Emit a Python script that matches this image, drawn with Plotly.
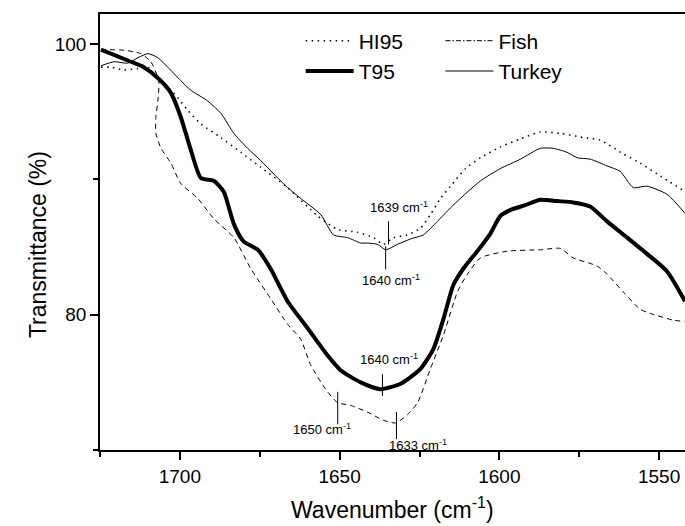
import plotly.graph_objects as go

# ---------------- data ----------------
t95_wn = [1724.7, 1715.3, 1711.3, 1706.9, 1702.8, 1699.7, 1696.6, 1693.4, 1689.4, 1686.3,
          1683.1, 1680.0, 1675.6, 1671.6, 1666.3, 1660.0, 1653.8, 1649.7, 1643.4,
          1637.2, 1630.9, 1624.7, 1620.6, 1617.5, 1614.4, 1611.3, 1606.9, 1602.8, 1599.7,
          1595.9, 1591.9, 1587.2, 1581.9, 1576.9, 1571.6, 1566.3, 1560.0, 1553.8, 1547.5, 1541.9]
t95_tr = [99.6, 98.7, 98.3, 97.5, 96.4, 94.6, 92.2, 90.1, 89.9, 89.1,
          86.7, 85.4, 84.8, 83.4, 81.0, 79.0, 77.0, 75.9, 75.0,
          74.5, 74.9, 76.0, 77.5, 79.7, 82.2, 83.4, 84.7, 86.0, 87.3,
          87.8, 88.1, 88.5, 88.4, 88.3, 88.0, 86.9, 85.7, 84.5, 83.2, 81.0]

fish_wn = [1724.7, 1717.5, 1712.2, 1709.1, 1706.6, 1706.9, 1707.5, 1707.5, 1705.9, 1702.8,
           1699.7, 1694.4, 1689.4, 1683.1, 1677.8, 1671.6, 1666.3, 1662.2, 1659.1, 1653.8,
           1650.6, 1646.6, 1641.3, 1636.3, 1632.5, 1628.8, 1625.6, 1621.6, 1617.5, 1613.1,
           1610.0, 1605.9, 1597.5, 1587.2, 1580.9, 1576.9, 1569.4, 1566.3, 1561.3, 1555.9,
           1552.8, 1545.6, 1541.9]
fish_tr = [99.6, 99.55, 99.3, 98.7, 97.3, 95.8, 94.6, 93.4, 92.3, 91.2,
           89.7, 88.6, 87.1, 85.7, 83.4, 81.2, 79.3, 78.2, 76.3, 74.3,
           73.5, 73.3, 72.8, 72.2, 72.0, 72.6, 73.5, 76.0, 78.5, 81.7,
           83.0, 84.2, 84.7, 84.8, 84.9, 84.2, 83.6, 83.0, 81.7, 80.4,
           80.1, 79.6, 79.5]

turkey_wn = [1724.7, 1720.6, 1716.3, 1713.1, 1710.0, 1706.9, 1703.8, 1699.7, 1696.6, 1691.3,
             1687.2, 1683.1, 1678.8, 1674.7, 1670.6, 1666.3, 1662.2, 1655.9, 1651.9, 1647.5,
             1643.4, 1641.3, 1638.1, 1635.6, 1631.9, 1627.8, 1623.8, 1619.4, 1615.3, 1612.2,
             1605.9, 1599.7, 1593.4, 1587.2, 1583.1, 1578.8, 1575.6, 1571.6, 1566.3, 1562.2,
             1558.1, 1553.8, 1547.5, 1541.9]
turkey_tr = [98.4, 98.7, 98.6, 99.0, 99.3, 99.0, 98.3, 97.3, 96.6, 95.8,
             94.9, 93.4, 92.3, 91.4, 90.4, 89.4, 88.6, 87.4, 85.9, 85.7,
             85.3, 85.3, 85.2, 84.8, 85.2, 85.6, 85.9, 86.9, 87.9, 88.6,
             89.9, 90.8, 91.5, 92.3, 92.3, 92.0, 91.6, 91.5, 91.0, 90.6,
             89.4, 89.5, 88.9, 87.5]

hi95_wn = [1724.7, 1721.6, 1717.5, 1713.1, 1710.0, 1706.9, 1701.9, 1697.5, 1693.4, 1687.2,
           1680.9, 1674.7, 1666.3, 1656.9, 1650.6, 1644.4, 1639.4, 1636.3, 1633.1, 1628.8,
           1624.7, 1621.6, 1618.4, 1615.3, 1610.6, 1605.9, 1599.7, 1593.4, 1587.2, 1580.9,
           1573.8, 1568.4, 1561.3, 1555.9, 1550.6, 1541.9]
hi95_tr = [98.3, 98.3, 98.1, 98.2, 98.3, 97.5, 96.4, 95.1, 94.1, 93.1,
           92.0, 90.9, 89.4, 87.3, 86.3, 86.1, 85.7, 85.2, 85.7, 85.9,
           86.4, 87.4, 88.6, 89.5, 90.8, 91.6, 92.4, 93.0, 93.5, 93.4,
           93.1, 92.9, 91.9, 91.2, 90.4, 89.1]

# peak markers: wavenumber of marker, marker y-extent, label text, label position
peak_wn = [1636.6, 1635.6, 1634.7, 1650.6, 1632.2]
peak_y0 = [75.6, 85.06, 86.9, 74.3, 72.8]
peak_y1 = [74.0, 83.35, 85.2, 71.9, 70.8]
peak_label = ["1640 cm<sup>-1</sup>", "1640 cm<sup>-1</sup>", "1639 cm<sup>-1</sup>",
              "1650 cm<sup>-1</sup>", "1633 cm<sup>-1</sup>"]
label_wn = [1634.5, 1634.0, 1631.5, 1655.5, 1625.5]
label_tr = [76.75, 82.6, 87.95, 71.55, 70.4]

x_range = [1725, 1541.9]
y_range = [70, 102.23]

FONT = "Arial, 'Liberation Sans', sans-serif"

fig = go.Figure()
fig.add_trace(go.Scatter(x=hi95_wn, y=hi95_tr, mode="lines", name="HI95", legend="legend",
                         line=dict(color="black", width=1.5, dash="1.5px,4.5px", shape="spline", smoothing=0.6)))
fig.add_trace(go.Scatter(x=t95_wn, y=t95_tr, mode="lines", name="T95", legend="legend",
                         line=dict(color="black", width=4, shape="spline", smoothing=0.6)))
fig.add_trace(go.Scatter(x=fish_wn, y=fish_tr, mode="lines", name="Fish", showlegend=False,
                         line=dict(color="black", width=1, dash="5px,4px", shape="spline", smoothing=0.6)))
# legend-only entry for Fish (the key shows a dash-dot sample)
fig.add_trace(go.Scatter(x=[None], y=[None], mode="lines", name="Fish", legend="legend2",
                         line=dict(color="black", width=1, dash="5px,2px,1.5px,2px")))
fig.add_trace(go.Scatter(x=turkey_wn, y=turkey_tr, mode="lines", name="Turkey", legend="legend2",
                         line=dict(color="black", width=1, shape="spline", smoothing=0.6)))

for wn, a, b in zip(peak_wn, peak_y0, peak_y1):
    fig.add_shape(type="line", x0=wn, x1=wn, y0=a, y1=b, xref="x", yref="y",
                  line=dict(color="black", width=1))
for lw, lt, txt in zip(label_wn, label_tr, peak_label):
    fig.add_annotation(x=lw, y=lt, text=txt, showarrow=False, xref="x", yref="y",
                       font=dict(family=FONT, size=13, color="black"))

# axis titles
fig.add_annotation(text="Wavenumber (cm<sup>-1</sup>)", xref="paper", yref="paper",
                   x=0.5, y=0, yshift=-58, yanchor="middle", showarrow=False,
                   font=dict(family=FONT, size=23, color="black"))
fig.add_annotation(text="Transmittance (%)", xref="paper", yref="paper",
                   x=0, xshift=-77, y=0.47, textangle=-90, showarrow=False,
                   font=dict(family=FONT, size=23, color="black"))

fig.update_layout(
    width=685, height=526,
    margin=dict(l=100, r=0, t=14, b=76),
    paper_bgcolor="white", plot_bgcolor="white",
    font=dict(family=FONT, size=19, color="black"),
    showlegend=True,
    legend=dict(x=0.343, y=0.985, xanchor="left", yanchor="top", bgcolor="rgba(0,0,0,0)",
                font=dict(size=21), itemwidth=48, tracegroupgap=0),
    legend2=dict(x=0.582, y=0.985, xanchor="left", yanchor="top", bgcolor="rgba(0,0,0,0)",
                 font=dict(size=21), itemwidth=48, tracegroupgap=0),
    xaxis=dict(range=x_range, showgrid=False, zeroline=False, showline=True, linecolor="black",
               linewidth=1.5, mirror=True, ticks="outside", ticklen=8, tickwidth=1.5,
               tick0=1550, dtick=50, tickcolor="black",
               minor=dict(dtick=25, tick0=1550, ticks="outside", ticklen=5, tickwidth=1.5,
                          tickcolor="black", showgrid=False)),
    yaxis=dict(range=y_range, showgrid=False, zeroline=False, showline=True, linecolor="black",
               linewidth=1.5, mirror=False, ticks="outside", ticklen=8, tickwidth=1.5,
               tick0=80, dtick=20, tickcolor="black",
               minor=dict(dtick=10, tick0=80, ticks="outside", ticklen=5, tickwidth=1.5,
                          tickcolor="black", showgrid=False)),
)

fig.write_html("out.html")
